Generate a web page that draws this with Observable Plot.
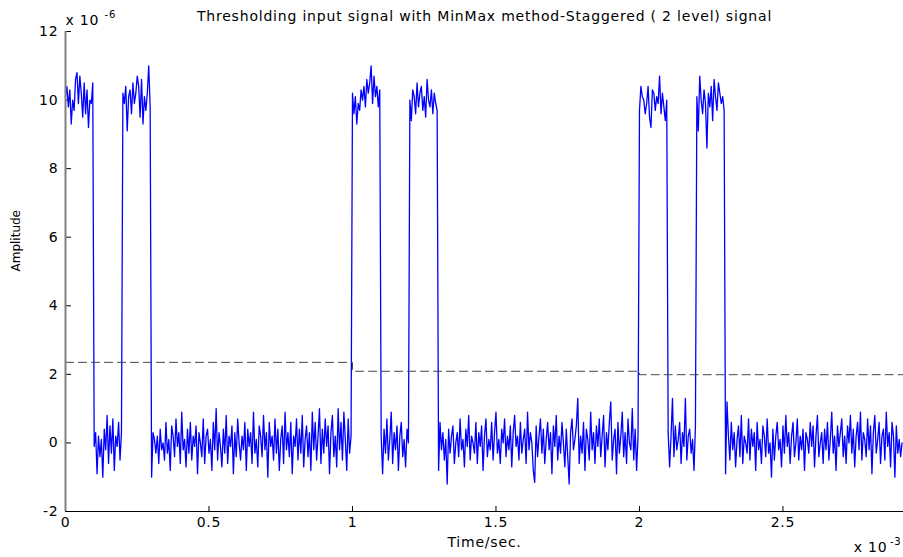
<!DOCTYPE html>
<html><head><meta charset="utf-8">
<script src="https://cdn.jsdelivr.net/npm/d3@7"></script>
<script src="https://cdn.jsdelivr.net/npm/@observablehq/plot@0.6"></script>
<style>body{margin:0;background:#fff} svg{display:block}</style>
</head><body><div id="chart"></div>
<script>
// Sample period (units of 1e-3 s); amplitude values in units of 1e-6
const dt = 0.005;
const high1 = [10.1,10.4,9.8,10.3,9.3,10.0,9.7,10.6,10.8,9.9, 10.7,10.2,9.5,10.5,9.6,10.3,9.2,10.0,9.9,10.5];
const low1 = [-0.1,0.3,-0.9,0.2,-0.4,0.1,-1.0,0.4,-0.2,0.8, -0.6,0.5,-0.3,0.7,-0.8,0.2,-0.1,0.6,-0.5,0.3];
const high2 = [10.2,9.9,10.4,9.1,10.1,10.3,9.6,10.5,9.9,10.2, 10.7,10.4,9.5,10.6,9.3,10.1,9.7,10.2,11.0,9.8];
const low2 = [
 -1.0,0.3,0.1,-0.3,0.2,-0.6,0.4,-0.2,0.0,-0.5,
 0.6,-0.3,0.1,-0.8,0.5,0.2,-0.4,0.7,-0.1,0.3,
 -0.6,0.9,-0.2,0.1,-0.7,0.4,-0.3,0.6,-0.5,0.2,
 -0.1,0.5,-0.9,0.3,0.0,-0.4,0.7,-0.6,0.2,0.4,
 -0.3,0.1,-0.8,0.6,-0.2,1.0,-0.5,0.3,-0.1,-0.7,
 0.4,-0.3,0.8,-0.6,0.2,-0.1,0.5,-0.9,0.3,-0.4,
 0.7,0.0,-0.5,0.2,-0.2,0.6,-0.8,0.4,-0.1,0.3,
 -0.6,0.9,-0.3,0.1,-0.7,0.5,0.2,-0.4,0.8,-0.2,
 0.3,-1.0,0.6,-0.1,0.2,-0.5,0.7,-0.3,0.4,-0.8,
 0.1,0.5,-0.6,0.9,-0.2,0.3,-0.4,0.6,-0.9,0.2,
 -0.1,0.7,-0.5,0.4,-0.3,0.8,-0.7,0.1,0.5,-0.4,
 0.3,-0.8,0.9,-0.2,0.6,-0.5,0.2,1.0,-0.6,0.4,
 -0.3,0.7,-0.1,0.5,-0.9,0.3,0.8,-0.4,0.2,-0.7,
 1.0,-0.2,0.6,-0.5,0.9,0.1,-0.8,0.7,-0.3,0.2];
const high3 = [10.2,9.6,10.1,9.3,9.9,9.7,10.3,10.0,10.4,9.8, 10.6,10.2,10.5,11.0,9.9,10.7,10.1,10.4,9.8,10.3];
const low3 = [0.2,-0.9,0.4,-0.3,0.7,-0.5,0.1,0.9,-0.6,0.3, -0.2,0.5,-0.8,0.2,0.6,-0.4,0.1,-0.7,0.4,0.0];
const high4 = [10.0,9.4,10.3,10.1,9.6,10.5,9.8,10.2,10.4,9.7, 10.1,9.5,10.6,10.0,9.8,10.3,9.6,10.2,9.9,9.7];
const low4 = [
 -0.8,0.6,-0.2,0.3,-0.5,0.1,-1.2,0.4,-0.3,0.2,
 0.5,-0.6,0.0,0.3,-0.4,0.7,-0.2,0.1,-0.7,0.4,
 -0.1,0.8,-0.5,0.2,0.0,-0.3,0.6,-0.6,0.3,-0.1,
 0.5,-0.8,0.2,0.7,-0.4,0.1,-0.2,0.6,-0.5,0.3,
 0.9,-0.3,0.1,-0.6,0.4,0.0,0.7,-0.4,0.2,-0.2,
 0.5,-0.7,0.3,0.8,-0.1,0.2,-0.5,0.6,-0.3,0.1,
 0.4,-0.6,0.9,-0.2,0.3,0.0,-0.8,-1.15,0.5,-0.4,
 0.2,0.7,-0.3,0.4,-0.6,0.1,0.6,-0.2,0.3,-0.9,
 0.5,-0.1,0.8,-0.5,0.2,-0.3,0.6,0.0,-0.7,0.4,
 -0.4,-1.2,0.3,0.7,-0.2,0.1,0.5,1.3,-0.6,0.2,
 -0.3,0.6,-0.8,0.4,0.1,-0.5,0.9,-0.2,0.3,-0.6,
 0.5,-0.1,0.7,-0.4,0.2,0.8,-0.7,0.3,-0.2,0.6,
 1.2,-0.5,0.1,0.4,-0.9,0.6,-0.3,0.2,0.9,-0.4,
 0.3,-0.6,0.7,0.0,-0.2,1.0,-0.5,0.4,-0.8,0.2];
const high5 = [9.7,10.4,10.1,10.0,9.6,9.9,10.4,9.5,9.2,10.3, 10.2,9.7,10.1,9.9,10.7,9.6,10.2,9.8,9.4,10.0];
const low5 = [0.3,-0.7,0.2,1.3,-0.4,0.5,-0.2,0.1,0.6,-0.6, 0.3,-0.1,1.3,-0.5,0.2,0.4,-0.3,0.1,-0.8,0.5];
const high6 = [10.1,9.1,10.7,10.0,9.6,10.3,9.9,8.6,10.2,9.8, 10.4,9.4,10.6,10.1,9.7,10.5,10.2,9.9,10.1,9.7];
const low6 = [
 -0.9,1.2,0.2,-0.5,0.6,-0.2,0.3,-0.7,0.1,0.5,
 -0.4,0.8,-0.6,0.2,0.0,-0.3,0.7,-0.5,0.4,-0.1,
 0.3,-0.8,0.6,-0.2,0.1,-0.6,0.5,0.2,-0.4,0.7,
 -0.3,0.0,-1.0,0.4,-0.5,0.2,0.6,-0.2,0.1,-0.7,
 0.5,-0.3,0.8,-0.1,0.3,-0.6,0.2,0.6,-0.4,0.0,
 0.7,-0.5,0.2,-0.2,0.4,-0.8,0.3,0.1,-0.3,0.6,
 -0.1,0.5,-0.7,0.2,0.8,-0.4,0.0,0.3,-0.6,0.4,
 -0.2,0.6,-0.5,0.1,0.9,-0.3,0.2,-0.8,0.5,-0.1,
 0.3,0.7,-0.4,0.2,-0.6,0.5,0.0,0.8,-0.3,0.4,
 -0.7,0.2,0.6,-0.2,0.9,-0.5,0.3,0.1,-0.4,0.7,
 -0.2,0.5,-0.9,0.3,0.8,-0.3,0.1,0.6,-0.6,0.2,
 0.4,-0.5,0.9,-0.1,0.3,-0.7,0.6,0.2,-1.0,0.5,
 -0.3,0.1,-0.4,0.0];

const thresholdTimes = [0, 1, 2, 2.92];
const thresholdLevels = [2.35, 2.09, 1.99, 1.99];
const xTicks = [0, 0.5, 1, 1.5, 2, 2.5];
const yTicks = [-2, 0, 2, 4, 6, 8, 10, 12];

const amplitude = [].concat(high1, low1, high2, low2, high3, low3, high4, low4, high5, low5, high6, low6);
const signal = amplitude.map((v, i) => ({t: i * dt, v}));
const threshold = thresholdTimes.map((t, i) => ({t, v: thresholdLevels[i]}));

const W = 903, H = 557, ML = 65, MR = 0, MT = 31, MB = 46;
const frameW = W - ML - MR, frameH = H - MT - MB;
const font = "DejaVu Sans, sans-serif";
const chart = Plot.plot({
  width: W, height: H,
  marginLeft: ML, marginRight: MR, marginTop: MT, marginBottom: MB,
  style: {fontFamily: font, fontSize: "14px", background: "#fff", color: "#000"},
  x: {domain: [0, 2.92], label: null},
  y: {domain: [-2, 12], label: null},
  marks: [
    Plot.axisX({ticks: xTicks, tickSize: 0, tickPadding: 6, tickFormat: d => String(d), fontSize: 14}),
    Plot.axisY({ticks: yTicks, tickSize: 0, tickPadding: 7, tickFormat: d => String(d), fontSize: 14}),
    Plot.tickX(xTicks, {x: d => d, insetTop: frameH - 5, stroke: "#000", strokeWidth: 1}),
    Plot.tickY(yTicks, {y: d => d, insetRight: frameW - 6, stroke: "#000", strokeWidth: 1}),
    Plot.lineY(signal, {x: "t", y: "v", stroke: "#0000ff", strokeWidth: 1.3}),
    Plot.line(threshold, {x: "t", y: "v", curve: "step-after", stroke: "#444", strokeWidth: 1, strokeDasharray: "8,5"}),
    Plot.ruleX([0], {stroke: "#808080", strokeWidth: 2}),
    Plot.ruleY([-2], {stroke: "#000", strokeWidth: 1}),
    Plot.text(["Thresholding input signal with MinMax method-Staggered ( 2 level) signal"], {text: d => d, frameAnchor: "top", lineAnchor: "bottom", dy: -11, fontSize: 14}),
    Plot.text(["x 10"], {text: d => d, frameAnchor: "top-left", textAnchor: "start", lineAnchor: "bottom", dy: -7, fontSize: 14}),
    Plot.text(["-6"], {text: d => d, frameAnchor: "top-left", textAnchor: "start", lineAnchor: "bottom", dx: 39, dy: -14, fontSize: 10}),
    Plot.text(["Time/sec."], {text: d => d, frameAnchor: "bottom", lineAnchor: "bottom", dy: 35, fontSize: 14}),
    Plot.text(["x 10"], {text: d => d, frameAnchor: "bottom-right", textAnchor: "end", lineAnchor: "bottom", dx: -16, dy: 40, fontSize: 14}),
    Plot.text(["-3"], {text: d => d, frameAnchor: "bottom-right", textAnchor: "end", lineAnchor: "bottom", dx: -2, dy: 33, fontSize: 10}),
    Plot.text(["Amplitude"], {text: d => d, frameAnchor: "left", rotate: -90, lineAnchor: "bottom", dx: -46, fontSize: 12})
  ]
});
// MATLAB export stretches horizontal text slightly: widen with letter spacing
d3.select(chart).selectAll("text")
  .filter(function () { return this.textContent !== "Amplitude"; })
  .style("letter-spacing", "0.8px");
document.getElementById("chart").appendChild(chart);
</script>
</body></html>
